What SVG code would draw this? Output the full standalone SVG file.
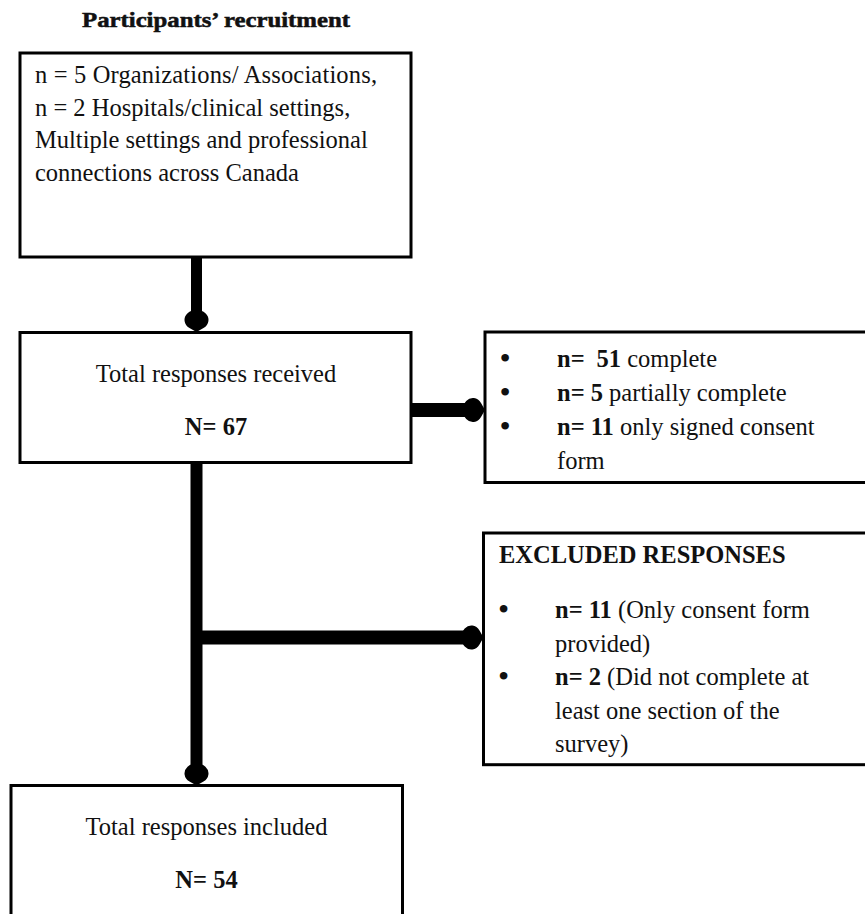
<svg xmlns="http://www.w3.org/2000/svg" width="865" height="914" viewBox="0 0 865 914">
  <style>
    .box { fill: #ffffff; stroke: #000000; stroke-width: 3; }
    .wire { fill: none; stroke: #000000; stroke-linecap: butt; }
    text { font-family: "Liberation Serif", "Times New Roman", serif; font-size: 24.5px; fill: #111111; }
    .b { font-weight: bold; }
    .mid { text-anchor: middle; }
    .dot { font-size: 32px; text-anchor: middle; }
    .title { font-weight: bold; font-size: 20px; stroke: #111111; stroke-width: 0.5; }
  </style>
  <defs>
    <!-- rounded "bulb" head used at the end of every connector; tip sits 10px past the path end -->
    <marker id="bulb" viewBox="-24 -13 26 26" markerWidth="26" markerHeight="26" refX="-10" refY="0" orient="auto" markerUnits="userSpaceOnUse" overflow="visible">
      <path d="M0,0 L-4,-7 A10,12 0 1,0 -4,7 Z" fill="#000000"/>
    </marker>
  </defs>

  <rect width="865" height="914" fill="#ffffff"/>

  <text class="title mid" x="216" y="27" textLength="268" lengthAdjust="spacingAndGlyphs">Participants’ recruitment</text>

  <g id="connectors">
    <path class="wire" d="M196.5,257 V322" stroke-width="11" marker-end="url(#bulb)"/>
    <path class="wire" d="M411,410 H475" stroke-width="14" marker-end="url(#bulb)"/>
    <path class="wire" d="M196.5,463 V775.5" stroke-width="12" marker-end="url(#bulb)"/>
    <path class="wire" d="M196.5,637.5 H473.5" stroke-width="14" marker-end="url(#bulb)"/>
  </g>

  <g id="recruitment">
    <rect class="box" x="20" y="53" width="391" height="204"/>
    <text x="35" y="83" textLength="342">n = 5 Organizations/ Associations,</text>
    <text x="35" y="115.5">n = 2 Hospitals/clinical settings,</text>
    <text x="35" y="148">Multiple settings and professional</text>
    <text x="35" y="181">connections across Canada</text>
  </g>

  <g id="received">
    <rect class="box" x="20" y="332.5" width="391" height="130"/>
    <text class="mid" x="216" y="382">Total responses received</text>
    <text class="mid b" x="216" y="435">N= 67</text>
  </g>

  <g id="breakdown">
    <rect class="box" x="485" y="332" width="400" height="150.5"/>
    <text class="dot" x="505" y="369">•</text>
    <text class="dot" x="505" y="403">•</text>
    <text class="dot" x="505" y="437">•</text>
    <text x="557" y="367"><tspan class="b">n=</tspan><tspan class="b" dx="12">51</tspan> complete</text>
    <text x="557" y="401"><tspan class="b">n= 5</tspan> partially complete</text>
    <text x="557" y="435"><tspan class="b">n= 11</tspan> only signed consent</text>
    <text x="557" y="469">form</text>
  </g>

  <g id="excluded">
    <rect class="box" x="483.5" y="533" width="400" height="231.7"/>
    <text class="b" x="499" y="562.5">EXCLUDED RESPONSES</text>
    <text class="dot" x="503.5" y="620">•</text>
    <text class="dot" x="503.5" y="687">•</text>
    <text x="555" y="618"><tspan class="b">n= 11</tspan> (Only consent form</text>
    <text x="555" y="652">provided)</text>
    <text x="555" y="685"><tspan class="b">n= 2</tspan> (Did not complete at</text>
    <text x="555" y="719">least one section of the</text>
    <text x="555" y="752">survey)</text>
  </g>

  <g id="included">
    <rect class="box" x="11" y="785.5" width="391.5" height="200"/>
    <text class="mid" x="206.5" y="835">Total responses included</text>
    <text class="mid b" x="206.5" y="888">N= 54</text>
  </g>
</svg>
